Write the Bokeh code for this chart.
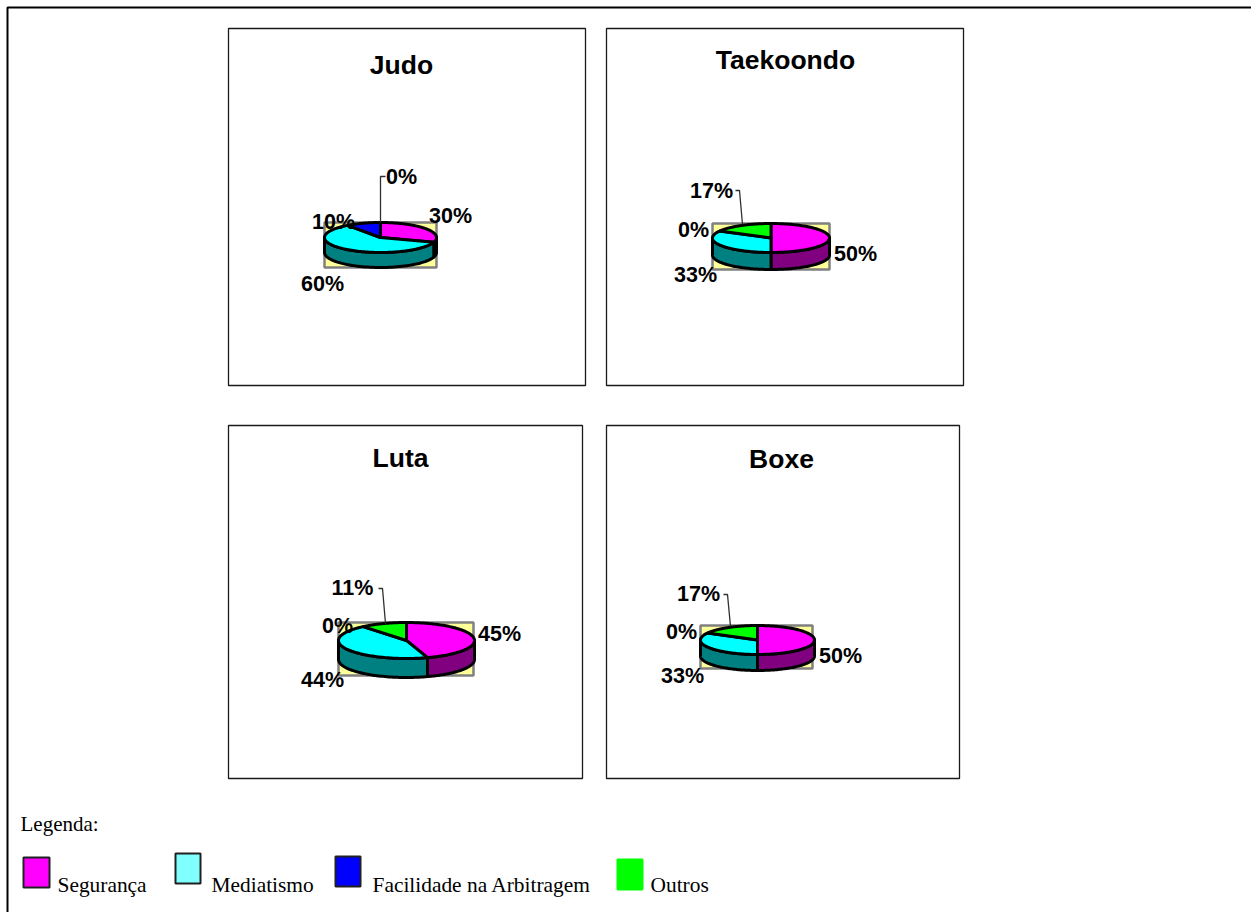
import numpy as np
from bokeh.core.properties import value
from bokeh.embed import file_html
from bokeh.models import Range1d
from bokeh.plotting import figure
from bokeh.resources import INLINE

# Share of answers per sport, in series order
series_names = ["Segurança", "Mediatismo", "Facilidade na Arbitragem", "Outros"]
judo = [30, 60, 10, 0]
taekoondo = [50, 33, 0, 17]
luta = [45, 44, 0, 11]
boxe = [50, 33, 0, 17]

top_colors = ["#FF00FF", "#00FFFF", "#0000FF", "#00FF00"]
side_colors = ["#800080", "#008080", "#000080", "#008000"]
legend_colors = ["#FF00FF", "#80FFFF", "#0000FF", "#00FF00"]
legend_edges = ["#202020", "#202020", "#202020", "#00FF00"]

panels = [
    dict(title="Judo", values=judo, frame=(228, 28, 585, 385), title_xy=(401, 64),
         c=(380, 237), r=(56, 15), depth=15, plot=(324, 222, 436, 267),
         labels=[(450, 215), (322, 283), (333, 221), (401, 176)],
         leader=[(380, 222), (380, 176), (385, 176)]),
    dict(title="Taekoondo", values=taekoondo, frame=(606, 28, 963, 385), title_xy=(785, 59),
         c=(770.5, 237.5), r=(58.5, 14.5), depth=17, plot=(712, 223, 829, 269),
         labels=[(855, 253), (695, 274), (693, 229), (711, 190)],
         leader=[(742, 224), (739, 190), (735, 190)]),
    dict(title="Luta", values=luta, frame=(228, 425, 582, 778), title_xy=(400, 457),
         c=(406, 640), r=(68, 18), depth=19, plot=(338, 622, 473, 675),
         labels=[(499, 633), (322, 679), (337, 625), (352, 587)],
         leader=[(385, 623), (382, 588), (378, 588)]),
    dict(title="Boxe", values=boxe, frame=(606, 425, 959, 778), title_xy=(781, 458),
         c=(757, 639.5), r=(57, 14.5), depth=16, plot=(700, 625, 812, 668),
         labels=[(840, 655), (682, 675), (681, 631), (698, 593)],
         leader=[(730, 626), (727, 594), (723, 594)]),
]

legend_items = [
    dict(box=(23, 857, 49, 887), text_x=57),
    dict(box=(175, 853, 200, 883), text_x=211),
    dict(box=(335, 856, 360, 886), text_x=372),
    dict(box=(617, 859, 642, 889), text_x=650),
]

p = figure(width=1251, height=912, output_backend="svg", toolbar_location=None,
           x_range=Range1d(0, 1251), y_range=Range1d(912, 0),
           min_border=0, outline_line_color=None)
p.axis.visible = False
p.grid.visible = False

# Page rule along the top and left edges
p.line([7, 7, 1251], [912, 7, 7], line_color="black", line_width=2)


def rim(cx, cy, rx, ry, t):
    return cx + rx * np.sin(t), cy - ry * np.cos(t)


for panel in panels:
    x0, y0, x1, y1 = panel["frame"]
    p.quad(left=x0, right=x1, top=y0, bottom=y1, fill_color="white",
           line_color="#1a1a1a", line_width=1.3)

    px0, py0, px1, py1 = panel["plot"]
    p.quad(left=px0, right=px1, top=py0, bottom=py1, fill_color="#FFFF99",
           line_color="#808080", line_width=2.5)

    cx, cy = panel["c"]
    rx, ry = panel["r"]
    depth = panel["depth"]
    edges = np.radians(np.concatenate([[0], np.cumsum(panel["values"])]) * 3.6)

    # Wall of the disc: only the front half (90 to 270 degrees) is visible
    for i in range(len(panel["values"])):
        a = max(edges[i], np.pi / 2)
        b = min(edges[i + 1], 3 * np.pi / 2)
        if b <= a:
            continue
        t = np.linspace(a, b, 60)
        xs, ys = rim(cx, cy, rx, ry, t)
        p.patch(np.r_[xs, xs[::-1]], np.r_[ys, ys[::-1] + depth],
                fill_color=side_colors[i], line_color="black", line_width=3,
                line_join="round")

    # Top face of the disc
    for i in range(len(panel["values"])):
        if edges[i + 1] <= edges[i]:
            continue
        t = np.linspace(edges[i], edges[i + 1], 120)
        xs, ys = rim(cx, cy, rx, ry, t)
        p.patch(np.r_[cx, xs], np.r_[cy, ys], fill_color=top_colors[i],
                line_color="black", line_width=3, line_join="round")

    lx, ly = zip(*panel["leader"])
    p.line(list(lx), list(ly), line_color="#303030", line_width=1.3)

    p.text(x=[panel["title_xy"][0]], y=[panel["title_xy"][1]], text=[panel["title"]],
           text_font=value("Liberation Sans"), text_font_style="bold",
           text_font_size="26.5px", text_align="center",
           text_baseline="middle", text_color="black")

    lab_x, lab_y = zip(*panel["labels"])
    p.text(x=list(lab_x), y=list(lab_y), text=[f"{v}%" for v in panel["values"]],
           text_font=value("Liberation Sans"), text_font_style="bold",
           text_font_size="21.5px", text_align="center", text_baseline="middle",
           text_color="black")

p.text(x=[20], y=[823], text=["Legenda:"], text_font=value("Liberation Serif"),
       text_font_size="21px", text_baseline="middle", text_color="black")

for i, item in enumerate(legend_items):
    bx0, by0, bx1, by1 = item["box"]
    p.quad(left=bx0, right=bx1, top=by0, bottom=by1, fill_color=legend_colors[i],
           line_color=legend_edges[i], line_width=2)
    p.text(x=[item["text_x"]], y=[884], text=[series_names[i]],
           text_font=value("Liberation Serif"), text_font_size="21.4px",
           text_baseline="middle", text_color="black")

open("out.html", "w").write(file_html(p, INLINE))
